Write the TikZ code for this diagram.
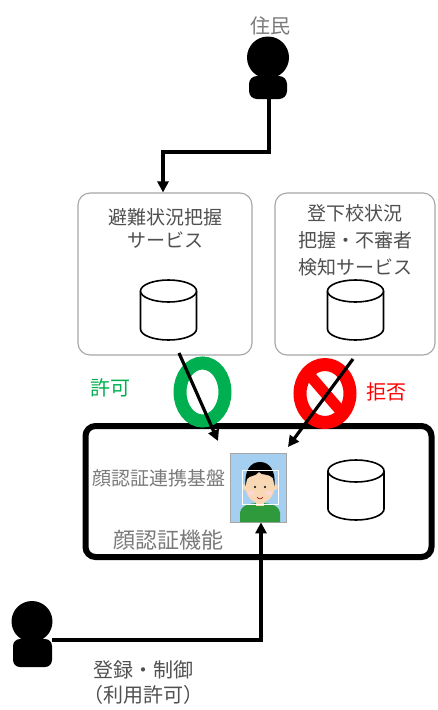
\documentclass[tikz,border=0pt]{standalone}
\usepackage{fontspec}
\newfontfamily\jpfont{Noto Sans CJK JP}
\usetikzlibrary{arrows.meta}
\definecolor{okgreen}{HTML}{00B050}
\definecolor{ngred}{HTML}{FF0000}
\definecolor{txtdark}{HTML}{505050}
\definecolor{txtmid}{HTML}{7A7A7A}
\definecolor{boxgray}{HTML}{A6A6A6}
\definecolor{photobg}{HTML}{A4CFF0}
\definecolor{skin}{HTML}{F8D7B4}
\definecolor{shirt}{HTML}{2E9A3C}
\tikzset{
  conn/.style={line width=3.6pt},
  connarrow/.style={conn,-{Triangle[length=11pt,width=11pt]}},
  svcbox/.style={draw=boxgray,line width=1.1pt,rounded corners=12pt,fill=white},
  mainbox/.style={draw=black,line width=6pt,rounded corners=10pt},
  lbl/.style={font=\jpfont\fontsize{19}{23}\selectfont,text=txtdark,align=center,inner sep=0pt},
  person/.style={fill=black},
  dbcyl/.pic={
    \draw[line width=1.6pt,fill=white] (-28,-19) -- (-28,19)
      arc[start angle=180,end angle=0,x radius=28,y radius=11] -- (28,-19);
    \draw[line width=1.6pt,fill=white] (0,-19) ellipse [x radius=28,y radius=11];
  }
}
\begin{document}
\begin{tikzpicture}[x=1pt,y=-1pt]
\useasboundingbox[fill=white] (0,0) rectangle (437,710);

% resident at the top
\node[lbl,text=txtmid,font=\jpfont\fontsize{20}{24}\selectfont] (reslbl) at (270,26) {住民};
\fill[person,rounded corners=8pt] (249,99) rectangle (287,76);
\fill[person] (268,57.5) circle (21);
\coordinate (res) at (269,99);

% the two services
\node[svcbox,minimum width=174pt,minimum height=162pt] (svcA) at (165,274) {};
\node[svcbox,minimum width=160pt,minimum height=162pt] (svcB) at (355,274) {};
\node[lbl] (svcAt) at (165,228) {避難状況把握\\サービス};
\node[lbl,font=\jpfont\fontsize{19}{27}\selectfont] (svcBt) at (355,240) {登下校状況\\把握・不審者\\検知サービス};
\pic at (168.5,310) {dbcyl};
\pic at (355.5,310) {dbcyl};

% resident feeds the evacuation service
\coordinate (t1) at (163,152);
\draw[connarrow] (res) |- (t1) -- (t1 |- svcA.north);

% face authentication function
\node[mainbox,minimum width=346pt,minimum height=131pt] (face) at (258.5,491.5) {};
\node[lbl,text=txtmid] (link) at (159,478) {顔認証連携基盤};
\node[lbl,text=txtmid,font=\jpfont\fontsize{22}{26}\selectfont] (facet) at (168,540) {顔認証機能};
\pic at (356,490) {dbcyl};

% ID photo
\node[draw=boxgray,line width=0.8pt,fill=photobg,minimum width=56pt,minimum height=69pt,inner sep=0pt] (photo) at (258.5,487.5) {};
\begin{scope}
  \clip (231,453) rectangle (286,522);
  \fill[shirt] (240,522) -- (240,513) .. controls (241,505) and (250,503) .. (260,503)
    .. controls (270,503) and (279,505) .. (280,513) -- (280,522) -- cycle;
  \fill[skin] (256,498) rectangle (264,506);
  \fill[skin] (245.5,487) circle (3.2);
  \fill[skin] (274.5,487) circle (3.2);
  \fill[skin] (260,487) ellipse [x radius=14.5,y radius=16];
  \fill[black] (245.5,486) .. controls (244,470) and (251,462) .. (260,462)
    .. controls (269,462) and (276,470) .. (274.5,486)
    -- (273,478) .. controls (268,473) and (262,476) .. (259,472)
    .. controls (255,477) and (250,475) .. (247,479) -- cycle;
  \fill[pink!80!red!40] (251,493) ellipse [x radius=3.5,y radius=2.3];
  \fill[pink!80!red!40] (269,493) ellipse [x radius=3.5,y radius=2.3];
  \fill[black] (255,487) circle (1.2);
  \fill[black] (265,487) circle (1.2);
  \draw[red!60!black,line width=0.6pt] (257,497) .. controls (259,499.5) and (261,499.5) .. (263,497);
  \draw[white,line width=1pt] (242,470) rectangle (278,504);
\end{scope}

% permission signs
\draw[okgreen,line width=13pt] (202.5,392) ellipse [x radius=22.5,y radius=29];
\draw[ngred,line width=13pt] (325,393.5) ellipse [x radius=25,y radius=29];
\draw[ngred,line width=11pt] (306,371) -- (345,416);
\node[lbl,text=okgreen,font=\jpfont\fontsize{20}{24}\selectfont] (ok) at (110,388) {許可};
\node[lbl,text=ngred,font=\jpfont\fontsize{20}{24}\selectfont] (ng) at (386,392) {拒否};

% access from the services to the platform
\coordinate (a1s) at (179,353);
\coordinate (a1e) at (218,441);
\coordinate (a2s) at (353,359);
\coordinate (a2e) at (288,447);
\draw[line width=3.2pt,-{Triangle[length=11pt,width=11pt]}] (a1s) -- (a1e);
\draw[line width=3.2pt,-{Triangle[length=11pt,width=11pt]}] (a2s) -- (a2e);

% administrator at the bottom
\fill[person,rounded corners=7pt] (13,667) rectangle (52,639);
\fill[person] (32,621.5) circle (20.5);
\coordinate (adm) at (52,640);
\draw[connarrow] (adm) -| (photo.south -| 261,0);
\node[lbl,font=\jpfont\fontsize{20}{25}\selectfont] (admt) at (143,683) {登録・制御\\（利用許可）};
\end{tikzpicture}
\end{document}
